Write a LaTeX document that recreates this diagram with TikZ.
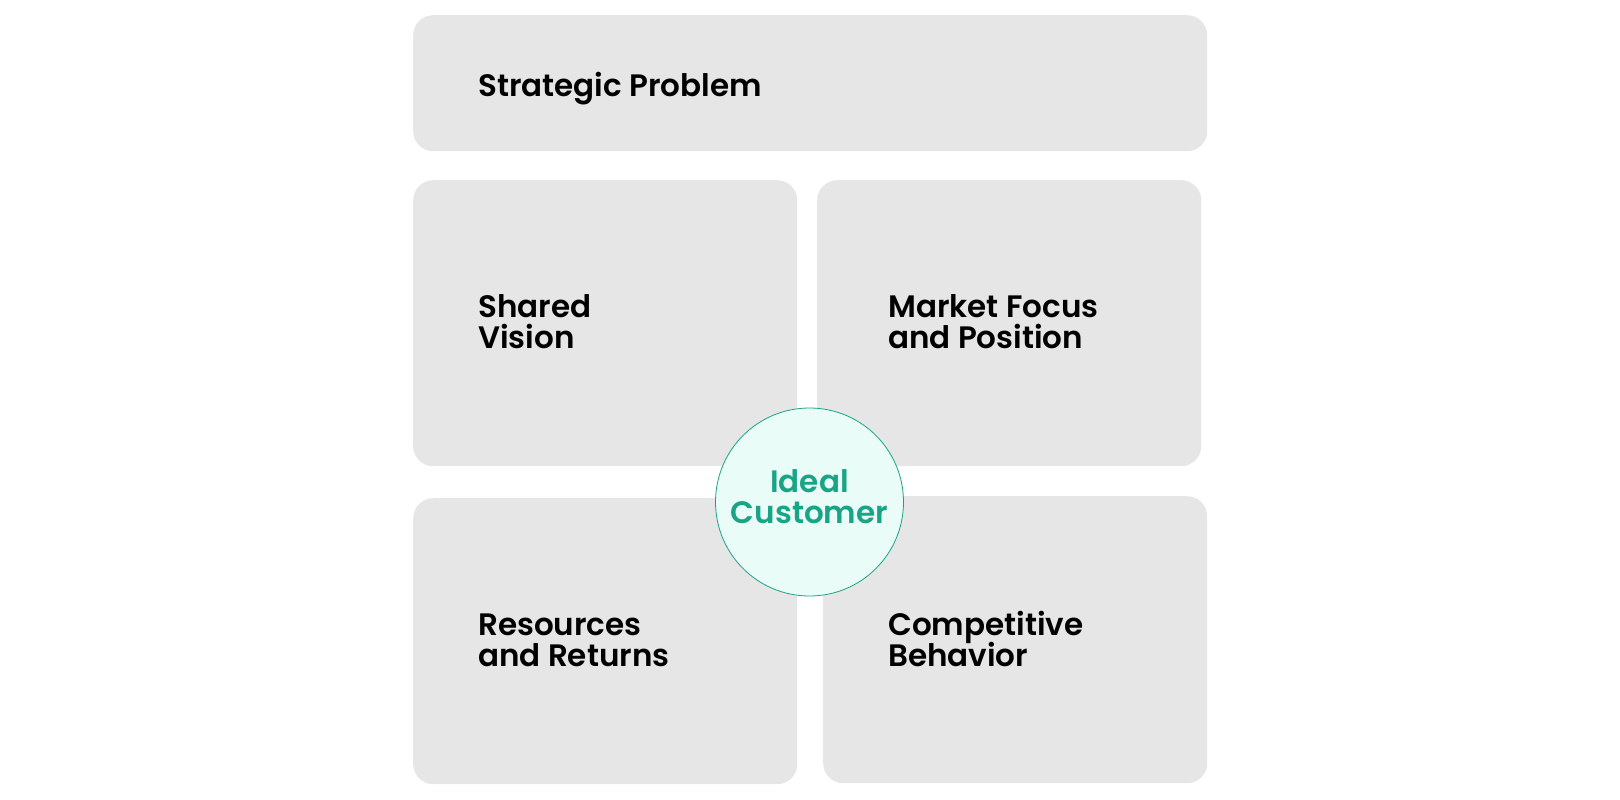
\documentclass[tikz,border=0pt]{standalone}
\usepackage{fontspec}
\setmainfont{Poppins}[BoldFont={Poppins SemiBold}]
\setlength{\lineskiplimit}{-100pt}
\definecolor{boxgray}{HTML}{E6E6E6}
\definecolor{teal}{HTML}{1AA486}
\definecolor{mint}{HTML}{E9FCF7}
\begin{document}
\begin{tikzpicture}[x=1pt,y=-1pt,
  card/.style={fill=boxgray,draw=none,rounded corners=20pt,anchor=north west,inner sep=0pt},
  lbl/.style={anchor=base west,align=left,inner sep=0pt,font=\fontsize{31}{31}\selectfont\bfseries,text=black},
  hub/.style={circle,fill=mint,draw=teal,line width=0.8pt,minimum size=188pt,inner sep=0pt},
  hubtext/.style={anchor=base,align=center,inner sep=0pt,text=teal,font=\fontsize{31}{31}\selectfont\bfseries}]
\useasboundingbox (0,0) rectangle (1620,800);
\node[card,minimum width=794pt,minimum height=136pt] (top) at (413,15) {};
\node[card,minimum width=384pt,minimum height=286pt] (sv) at (413,180) {};
\node[card,minimum width=384pt,minimum height=286pt] (mf) at (817,180) {};
\node[card,minimum width=384pt,minimum height=286pt] (rr) at (413,498) {};
\node[card,minimum width=384pt,minimum height=287pt] (cb) at (823,496) {};
\node[lbl] (tTop) at (478,96.7) {Strategic Problem};
\node[lbl] (tSv) at (478,348.3) {Shared\\Vision};
\node[lbl] (tMf) at (888,348.3) {Market Focus\\and Position};
\node[lbl] (tRr) at (478,666) {Resources\\and Returns};
\node[lbl] (tCb) at (888,666) {Competitive\\Behavior};
\node[hub] (ic) at (809.5,502) {};
\node[hubtext] (icText) at (809.5,523) {Ideal\\Customer};
\end{tikzpicture}
\end{document}
